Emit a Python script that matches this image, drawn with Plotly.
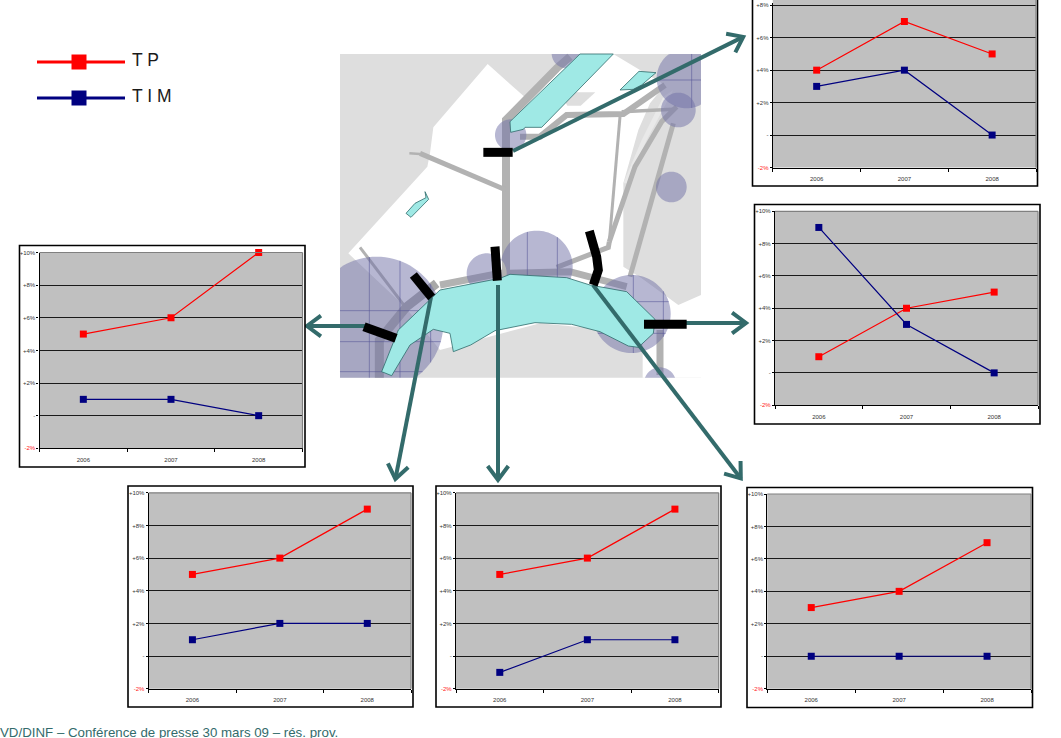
import numpy as np
import plotly.graph_objects as go

W, H = 1061, 738
# plotly keeps 3 px at the top and bottom of this figure: the paper runs from page y 3 to 735
PAPER_TOP, PAPER_BOTTOM = 3, 735

# ---------- chart data ----------
years = ["2006", "2007", "2008"]
tick_vals = [-2, 0, 2, 4, 6, 8, 10]
tick_text = ['<span style="color:#ff2020">-2%</span>', "-", "+2%", "+4%", "+6%", "+8%", "+10%"]

tp_left = [5, 6, 10]
tim_left = [1, 1, 0]
tp_top = [4, 7, 5]
tim_top = [3, 4, 0]
tp_right = [1, 4, 5]
tim_right = [9, 3, 0]
tp_b1 = [5, 6, 9]
tim_b1 = [1, 2, 2]
tp_b2 = [5, 6, 9]
tim_b2 = [-1, 1, 1]
tp_b3 = [3, 4, 7]
tim_b3 = [0, 0, 0]

footer_text = "VD/DINF \u2013 Conf\u00e9rence de presse 30 mars 09 \u2013 r\u00e9s. prov."

RED = "#ff0000"
NAVY = "#000080"
TEAL = "#336b6b"

charts = [
    (tp_left, tim_left, (19.5, 245.5, 305, 467), (39.5, 252.5, 302.5, 448.3), 10),
    (tp_top, tim_top, (752.5, -40, 1037.5, 186), (772.8, PAPER_TOP, 1036, 167.5), 8.14),
    (tp_right, tim_right, (754.5, 204.5, 1040, 424), (775, 211.3, 1038, 405.2), 10),
    (tp_b1, tim_b1, (128, 486, 413, 707), (148.7, 492.8, 411, 688.7), 10),
    (tp_b2, tim_b2, (436, 486, 721, 707), (456, 492.8, 718.7, 688.7), 10),
    (tp_b3, tim_b3, (747, 487.5, 1032.5, 707.5), (767.3, 494, 1031, 688.7), 10),
]

fig = go.Figure()
shapes = []


def fx(x):
    return x / W


def fy(y):
    return 1 - (y - PAPER_TOP) / (PAPER_BOTTOM - PAPER_TOP)


def path(pts, close=True):
    s = "M " + " L ".join(f"{fx(x):.5f},{fy(y):.5f}" for x, y in pts)
    return s + (" Z" if close else "")


def zm(p):
    return (340 + p[0] / 3, 40 + p[1] / 3)


MAP_W, MAP_H = 1083, 1013
MAP_TOP = 42


def poly(pts, fill, line=None, lw=0):
    shapes.append(dict(type="path", path=path([zm(p) for p in pts]), fillcolor=fill,
                       line=dict(color=line or "rgba(0,0,0,0)", width=lw),
                       xref="paper", yref="paper", layer="below"))


def road(pts, w, color="#b2b2b2"):
    shapes.append(dict(type="path", path=path([zm(p) for p in pts], close=False),
                       line=dict(color=color, width=w), fillcolor="rgba(0,0,0,0)",
                       xref="paper", yref="paper", layer="below"))


poly([(0, MAP_TOP), (MAP_W, MAP_TOP), (MAP_W, MAP_H), (0, MAP_H)], "#dedede")
poly([(443, 72), (555, 172), (720, 42), (820, 42), (975, 135), (930, 190), (895, 270),
      (850, 430), (850, 680), (905, 715), (1015, 795), (1083, 765), (1083, 1013), (908, 1013),
      (908, 880), (600, 850), (300, 930), (195, 800), (25, 640), (262, 380), (270, 340),
      (280, 262)], "#ffffff")
poly([(660, 157), (766, 157), (722, 197), (682, 197)], "#dedede")
poly([(905, 300), (970, 170), (1000, 150), (920, 300), (860, 430), (850, 430)], "#e9e9e9")

road([(498, 720), (498, 240), (650, 85), (690, 50)], 8)
road([(498, 450), (240, 340)], 5)
road([(240, 342), (208, 340)], 2.5)
road([(540, 290), (600, 290), (680, 225), (850, 222), (975, 135)], 6)
road([(845, 215), (1000, 208)], 3.5)
road([(840, 230), (808, 605)], 3)
road([(808, 605), (805, 622), (650, 682)], 5)
road([(808, 605), (885, 380), (965, 245), (1010, 200)], 5)
road([(1000, 250), (870, 710)], 5)
road([(60, 622), (195, 800)], 3)
road([(300, 735), (480, 700), (690, 695), (860, 740)], 7)
road([(960, 870), (960, 1005)], 7)
road([(118, 1013), (118, 900), (200, 800), (290, 730)], 9, "#a8a8a8")

theta = np.linspace(0, 2 * np.pi, 97)[:-1]


def circle_pts(cx, cy, r):
    xs = np.clip(cx + r * np.cos(theta), 0, MAP_W)
    ys = np.clip(cy + r * np.sin(theta), MAP_TOP, MAP_H)
    return [zm(p) for p in zip(xs, ys)]


def grid(cx, cy, r, cols, rows):
    for c in cols:
        d = np.sqrt(max(r * r - (c - cx) ** 2, 0))
        road([(c, max(cy - d, MAP_TOP)), (c, min(cy + d, MAP_H))], 0.7, "rgba(85,85,150,0.8)")
    for w_ in rows:
        d = np.sqrt(max(r * r - (w_ - cy) ** 2, 0))
        road([(max(cx - d, 0), w_), (min(cx + d, MAP_W), w_)], 0.7, "rgba(85,85,150,0.8)")


zone_groups = [
    [(110, 850, 200, [88, 180, 272], [812, 905, 995])],
    [(512, 285, 47, [], [])],
    [(680, 40, 45, [], [])],
    [(1040, 115, 90, [1055], [120])],
    [(1015, 210, 52, [], [])],
    [(994, 441, 46, [], [])],
    [(590, 680, 108, [562, 652], []), (440, 700, 60, [], [])],
    [(875, 822, 117, [880, 970], [785, 880])],
    [(960, 1030, 48, [], [])],
]
for group in zone_groups:
    d_path = " ".join(path(circle_pts(c[0], c[1], c[2])) for c in group)
    shapes.append(dict(type="path", path=d_path, fillcolor="rgba(112,112,165,0.5)",
                       line=dict(color="rgba(0,0,0,0)", width=0), xref="paper", yref="paper",
                       layer="below"))
    for c in group:
        grid(*c)

LAKE, EDGE = "#9fe9e5", "#2f6b6b"
poly([(125, 995), (175, 870), (300, 750), (480, 715), (510, 703), (680, 713), (750, 735),
      (860, 755), (945, 838), (940, 880), (895, 922), (865, 918), (780, 875), (695, 853),
      (585, 848), (465, 872), (392, 915), (340, 935), (330, 880), (280, 868), (210, 915),
      (155, 1007)], LAKE, EDGE, 0.8)
poly([(510, 245), (720, 42), (820, 42), (605, 262), (555, 262), (550, 268), (512, 277)],
     LAKE, EDGE, 0.8)
poly([(840, 150), (897, 94), (948, 98), (905, 135), (880, 148)], LAKE, EDGE, 0.8)
poly([(198, 520), (225, 490), (258, 473), (255, 455), (266, 478), (213, 532)], LAKE, EDGE, 0.8)


def arrow(a, b, head=19, ang=33):
    a, b = np.array(a, float), np.array(b, float)
    u = (a - b) / np.linalg.norm(a - b)
    rot = lambda t: np.array([[np.cos(t), -np.sin(t)], [np.sin(t), np.cos(t)]])
    t = np.radians(ang)
    p1 = b + head * rot(t) @ u
    p2 = b + head * rot(-t) @ u
    back = b + 2 * u
    for pts in ([a, back], [p1, back, p2]):
        shapes.append(dict(type="path", path=path(pts, close=False),
                           line=dict(color=TEAL, width=4), fillcolor="rgba(0,0,0,0)",
                           xref="paper", yref="paper", layer="below"))


arrow((513, 151), (745, 36))
arrow((365, 326), (305, 326))
arrow((431, 297), (395, 481))
arrow((498, 285), (498, 482))
arrow((593, 285), (742, 480))
arrow((686, 323), (748, 323))

road([(430, 337), (518, 337)], 9, "#000000")
road([(465, 620), (472, 722)], 9, "#000000")
road([(220, 705), (275, 772)], 9, "#000000")
road([(72, 860), (168, 895)], 9, "#000000")
road([(748, 573), (770, 650), (775, 690), (760, 735)], 9, "#000000")
road([(912, 853), (1040, 853)], 9, "#000000")

layout_axes = {}
for i, (tp, tim, frame, plot, top) in enumerate(charts, start=1):
    fl, ft, fr, fb = frame
    pl, pt, pr, pb = plot
    clipped = pt <= PAPER_TOP
    grey_top = 0 if clipped else pt
    shapes.append(dict(type="rect", x0=fx(fl), x1=fx(fr), y0=fy(ft), y1=fy(fb), xref="paper",
                       yref="paper", fillcolor="#ffffff", line=dict(color="#000000", width=1.6),
                       layer="below"))
    shapes.append(dict(type="rect", x0=fx(pl), x1=fx(pr), y0=fy(grey_top), y1=fy(pb), xref="paper",
                       yref="paper", fillcolor="#c0c0c0", line=dict(width=0), layer="below"))
    shapes.append(dict(type="line", x0=fx(pr), x1=fx(pr), y0=fy(grey_top), y1=fy(pb), xref="paper",
                       yref="paper", line=dict(color="#808080", width=1.2), layer="above"))
    if not clipped:
        shapes.append(dict(type="line", x0=fx(pl), x1=fx(pr), y0=fy(pt), y1=fy(pt), xref="paper",
                           yref="paper", line=dict(color="#808080", width=1.2), layer="above"))
    sfx = "" if i == 1 else str(i)
    layout_axes[f"xaxis{sfx}"] = dict(
        domain=[fx(pl), fx(pr)], anchor=f"y{sfx}", type="category", categoryorder="array",
        categoryarray=years, range=[-0.5, 2.5], tickson="boundaries", ticks="outside", ticklen=3,
        tickwidth=1, tickcolor="#000000", showline=True, linecolor="#000000", linewidth=1.2,
        showgrid=False, zeroline=False, ticklabelstandoff=5,
        tickfont=dict(family="Liberation Sans", size=6, color="#333333"), fixedrange=True)
    layout_axes[f"yaxis{sfx}"] = dict(
        domain=[fy(pb), fy(pt)], anchor=f"x{sfx}", range=[-2, top], tickmode="array",
        tickvals=tick_vals, ticktext=tick_text, ticks="outside", ticklen=2, tickwidth=1,
        tickcolor="#000000", showline=True, linecolor="#000000", linewidth=1.2, showgrid=True,
        gridcolor="#1a1a1a", gridwidth=1, zeroline=False, ticklabelstandoff=0,
        tickfont=dict(family="Liberation Sans", size=6, color="#333333"), fixedrange=True)
    for name, vals, col in (("TP", tp, RED), ("TIM", tim, NAVY)):
        fig.add_trace(go.Scatter(x=years, y=vals, mode="lines+markers", name=name, showlegend=False,
                                 line=dict(color=col, width=1.2),
                                 marker=dict(symbol="square", size=7, color=col),
                                 cliponaxis=False, xaxis=f"x{sfx}", yaxis=f"y{sfx}"))

for label, col, row in (("T P", RED, 62), ("T I M", NAVY, 98)):
    fig.add_trace(go.Scatter(x=[37, 125], y=[row, row], mode="lines", showlegend=False, hoverinfo="skip",
                             line=dict(color=col, width=3), xaxis="x7", yaxis="y7"))
    fig.add_trace(go.Scatter(x=[79], y=[row], mode="markers", showlegend=False,
                             hoverinfo="skip", marker=dict(symbol="square", size=15, color=col),
                             xaxis="x7", yaxis="y7"))
    fig.add_trace(go.Scatter(x=[132], y=[row], mode="text", text=[label], textposition="middle right",
                             textfont=dict(family="Liberation Sans", size=17.5, color="#1a1a1a"),
                             showlegend=False, hoverinfo="skip", cliponaxis=False,
                             xaxis="x7", yaxis="y7"))
fig.add_trace(go.Scatter(x=[0], y=[733.5], mode="text", text=[footer_text], textposition="middle right",
                         textfont=dict(family="Liberation Sans", size=13.3, color=TEAL),
                         showlegend=False, hoverinfo="skip", cliponaxis=False,
                         xaxis="x7", yaxis="y7"))
layout_axes["xaxis7"] = dict(domain=[0, 1], range=[0, W], visible=False, anchor="y7", fixedrange=True)
layout_axes["yaxis7"] = dict(domain=[0, 1], range=[PAPER_BOTTOM, PAPER_TOP], visible=False,
                             anchor="x7", fixedrange=True)

fig.update_layout(
    width=W, height=H, margin=dict(l=0, r=0, t=0, b=0), autosize=False, showlegend=False,
    paper_bgcolor="#ffffff", plot_bgcolor="rgba(0,0,0,0)", shapes=shapes,
    font=dict(family="Liberation Sans"),
    **layout_axes,
)

fig.write_html("out.html", config={"displayModeBar": False},
               post_script="document.body.style.margin='0';document.body.style.overflow='hidden';")
